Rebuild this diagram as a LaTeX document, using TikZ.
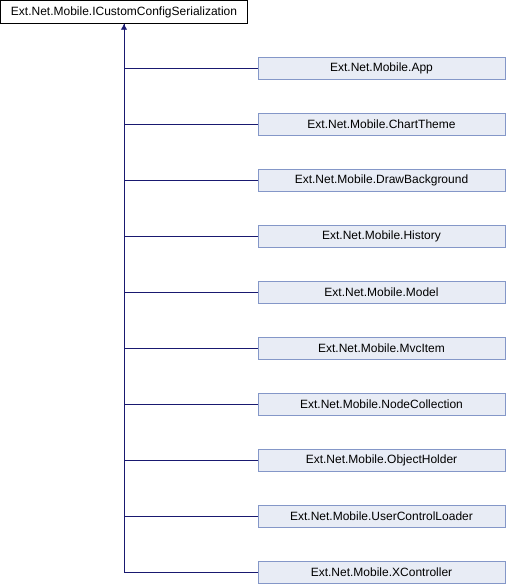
\documentclass[tikz,border=0pt]{standalone}
\usepackage{fontspec}
\setmainfont{Liberation Sans}
\usetikzlibrary{arrows.meta}
\definecolor{edgeblue}{HTML}{191970}
\definecolor{boxfill}{HTML}{E8ECF5}
\definecolor{boxline}{HTML}{8497C8}
\tikzset{
  rootbox/.style={draw=black, fill=white, minimum width=247pt, minimum height=23pt, inner sep=0pt, font=\fontsize{12pt}{14pt}\selectfont},
  childbox/.style={draw=boxline, fill=boxfill, minimum width=247pt, minimum height=22pt, inner sep=0pt, font=\fontsize{12pt}{14pt}\selectfont},
  edge/.style={draw=edgeblue, line width=0.9pt},
  tip/.style={{Latex[length=6pt,width=6.5pt]}-}
}
\begin{document}
\begin{tikzpicture}[x=1pt,y=-1pt]
\useasboundingbox (0,0) rectangle (506,584);
\node[rootbox] (root) at (124,12) {Ext.Net.Mobile.ICustomConfigSerialization};
\foreach \n/\t [count=\i from 0] in {c1/App,c2/ChartTheme,c3/DrawBackground,c4/History,c5/Model,c6/MvcItem,c7/NodeCollection,c8/ObjectHolder,c9/UserControlLoader,c10/XController}{
  \node[childbox] (\n) at (381.5,{68+56*\i}) {Ext.Net.Mobile.\t};
}
\foreach \n in {c1,c2,c3,c4,c5,c6,c7,c8,c9}{
  \draw[edge] (\n.west) -| (root.south);
}
\draw[edge,tip] (root.south) |- (c10.west);
\end{tikzpicture}
\end{document}
